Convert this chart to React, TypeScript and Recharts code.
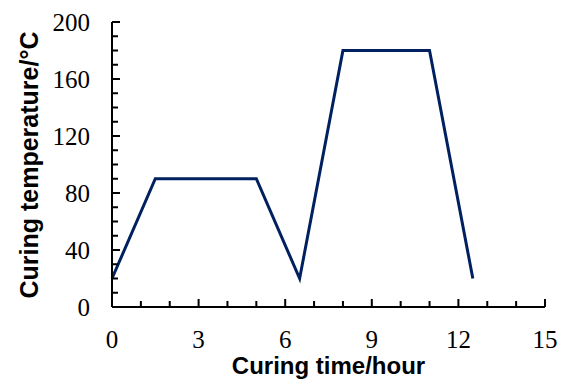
import React from 'react';
import { LineChart, Line, XAxis, YAxis } from 'recharts';

// curing schedule (time in hours, temperature in °C)
const timeHours = [0, 1.5, 5, 6.5, 8, 11, 12.5];
const tempC = [20, 90, 90, 20, 180, 180, 20];

const xTicks = Array.from({ length: 16 }, (_, i) => i);
const xLabelled = [0, 3, 6, 9, 12, 15];
const yTicks = Array.from({ length: 21 }, (_, i) => i * 10);
const yLabelled = [0, 40, 80, 120, 160, 200];

const data = timeHours.map((t, i) => ({ t, temp: tempC[i] }));

const serif = '"Times New Roman", "Liberation Serif", serif';
const sans = 'Arial, "Liberation Sans", sans-serif';

const XTick = (props: any) => {
    const x = Number(props.x);
    const y = Number(props.y);
    const v = props.payload.value;
    const major = xLabelled.includes(v);
    const len = major ? 8 : 6;
    return (
        <g>
            <rect x={x - 1} y={y - len} width={2} height={len} fill="#000" stroke="none" />
            {major && (
                <text x={x} y={y + 41} textAnchor="middle" fontFamily={serif} fontSize={25} fill="#000">
                    {v}
                </text>
            )}
        </g>
    );
};

const YTick = (props: any) => {
    const x = Number(props.x);
    const y = Number(props.y);
    const v = props.payload.value;
    const major = yLabelled.includes(v);
    const len = major ? 8 : 6;
    return (
        <g>
            <rect x={x} y={y - 1} width={len} height={2} fill="#000" stroke="none" />
            {major && (
                <text x={x - 22} y={y + 9} textAnchor="end" fontFamily={serif} fontSize={25} fill="#000">
                    {v}
                </text>
            )}
        </g>
    );
};

export default function App() {
    return (
        <div style={{ position: 'absolute', left: 0, top: 0, width: 565, height: 383 }}>
            <LineChart width={565} height={383} data={data} margin={{ top: 22, right: 20, bottom: 0, left: 0 }}>
                <XAxis
                    dataKey="t"
                    type="number"
                    domain={[0, 15]}
                    ticks={xTicks}
                    interval={0}
                    height={76}
                    tickSize={0}
                    tickMargin={0}
                    tickLine={false}
                    tick={<XTick />}
                    axisLine={{ stroke: '#000', strokeWidth: 2 }}
                />
                <YAxis
                    type="number"
                    domain={[0, 200]}
                    ticks={yTicks}
                    interval={0}
                    width={112}
                    tickSize={0}
                    tickMargin={0}
                    tickLine={false}
                    tick={<YTick />}
                    axisLine={{ stroke: '#000', strokeWidth: 2 }}
                />
                <Line
                    type="linear"
                    dataKey="temp"
                    stroke="#002060"
                    strokeWidth={3}
                    dot={false}
                    isAnimationActive={false}
                />
            </LineChart>
            <div
                style={{
                    position: 'absolute', left: 112, width: 433, top: 354, textAlign: 'center',
                    fontFamily: sans, fontWeight: 'bold', fontSize: 24, lineHeight: '24px', whiteSpace: 'nowrap',
                }}
            >
                Curing time/hour
            </div>
            <div
                style={{
                    position: 'absolute', left: 29 - 150, top: 165 - 15, width: 300, height: 30, textAlign: 'center',
                    fontFamily: sans, fontWeight: 'bold', fontSize: 25, lineHeight: '30px', whiteSpace: 'nowrap',
                    transform: 'rotate(-90deg)',
                }}
            >
                Curing temperature/°C
            </div>
        </div>
    );
}
